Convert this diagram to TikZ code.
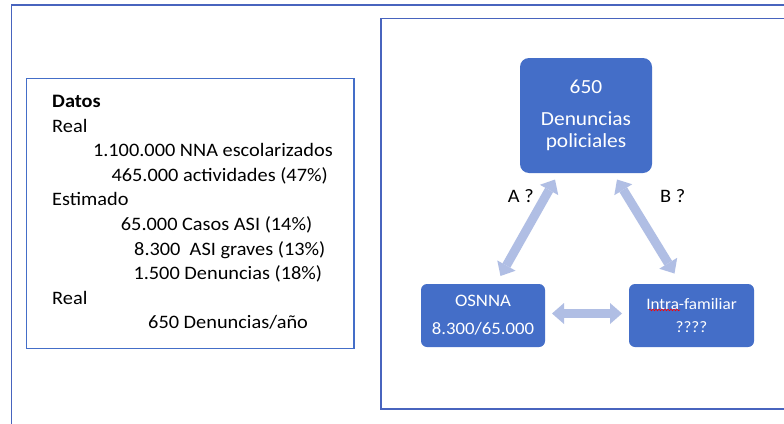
\documentclass[tikz,border=0pt]{standalone}
\usepackage{fontspec}
\setmainfont{Carlito}[FakeStretch=1.07]
\usetikzlibrary{arrows.meta,decorations.pathmorphing}
\definecolor{boxblue}{RGB}{68,110,200}
\definecolor{framecol}{RGB}{72,100,190}
\definecolor{arrowblue}{RGB}{176,190,228}
\begin{document}
\begin{tikzpicture}[x=1pt,y=-1pt,
  datatext/.style={anchor=base west, inner sep=0pt, font=\fontsize{19}{23}\selectfont},
  lbl/.style={anchor=base west, inner sep=0pt, font=\fontsize{19}{23}\selectfont},
  bluebox/.style={draw=none, fill=boxblue, rounded corners=9pt, text=white, align=center, inner sep=0pt},
  tipA/.tip={Triangle[width=21pt,length=12pt,line width=0pt]},
  bigarrow/.style={draw=arrowblue, line width=9pt, tipA-tipA},
  frameline/.style={draw=framecol, line width=1.3pt}
]
\useasboundingbox (0,0) rectangle (784,423);
\fill[white] (0,0) rectangle (784,423);

% outer frames
\draw[frameline] (11.7,430) -- (11.7,5) -- (790,5);
\draw[frameline] (790,18.5) -- (381,18.5) -- (381,409) -- (790,409);

% data box
\node[draw=boxblue, line width=1.3pt, minimum width=327.3pt, minimum height=269.6pt, inner sep=0pt] (datbox) at (190.35,213.5) {};
\node[datatext, font=\fontsize{19}{23}\selectfont\bfseries] (d1) at (52,107.5) {Datos};
\node[datatext] (d2) at (52,132.1) {Real};
\node[datatext] (d3) at (92.8,156.7) {1.100.000 NNA escolarizados};
\node[datatext] (d4) at (111.3,181.3) {465.000 actividades (47\%)};
\node[datatext] (d5) at (52,205.9) {Estimado};
\node[datatext] (d6) at (120.7,230.5) {65.000 Casos ASI (14\%)};
\node[datatext] (d7) at (134,255.1) {8.300\ \ ASI graves (13\%)};
\node[datatext] (d8) at (133.3,279.7) {1.500 Denuncias (18\%)};
\node[datatext] (d9) at (52,304.3) {Real};
\node[datatext] (d10) at (148,328.9) {650 Denuncias/año};

% diagram boxes
\node[bluebox, minimum width=132pt, minimum height=115pt, font=\fontsize{20}{21.6}\selectfont] (top) at (586,115.5) {650\\[10.4pt]Denuncias\\policiales};
\node[bluebox, minimum width=124pt, minimum height=63pt, rounded corners=6pt, font=\fontsize{17.5}{28}\selectfont] (osnna) at (483,315.5) {OSNNA\\8.300/65.000};
\node[bluebox, minimum width=125pt, minimum height=63pt, rounded corners=6pt, font=\fontsize{16}{23.3}\selectfont] (intra) at (691.5,315.5) {Intra-familiar\\????};
\draw[red, line width=0.6pt, decorate, decoration={snake, amplitude=0.8pt, segment length=3pt}] (649,310) -- (680,310);

% arrows
\coordinate (aLow) at (500.5,276);
\coordinate (aHigh) at (555,179.5);
\coordinate (bHigh) at (617,179.5);
\coordinate (bLow) at (674.5,273.5);
\coordinate (hL) at (552,313.5);
\coordinate (hR) at (622,313.5);
\draw[bigarrow] (aLow) -- (aHigh);
\draw[bigarrow] (bHigh) -- (bLow);
\draw[bigarrow] (hL) -- (hR);

% labels
\node[lbl] (la) at (507.7,202.3) {A ?};
\node[lbl] (lb) at (660,202.3) {B ?};
\end{tikzpicture}
\end{document}
